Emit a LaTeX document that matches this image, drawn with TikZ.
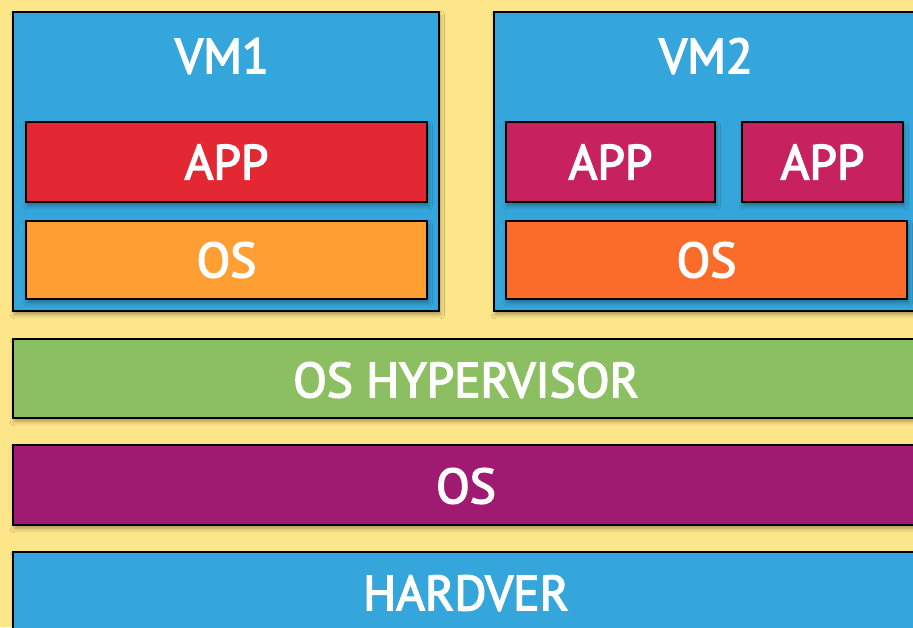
\documentclass[tikz,border=0pt]{standalone}
\usepackage{fontspec}
\setmainfont{PT Sans}
\newfontfamily\labelfont[FakeBold=3]{PT Sans}
\usetikzlibrary{shadows.blur}
\definecolor{bgyellow}{HTML}{FDE68A}
\definecolor{vmblue}{HTML}{35A6DB}
\definecolor{appred}{HTML}{E32833}
\definecolor{osorange}{HTML}{FF9F33}
\definecolor{appmagenta}{HTML}{C8215F}
\definecolor{osdarkorange}{HTML}{FB6B2A}
\definecolor{hypgreen}{HTML}{8CBF61}
\definecolor{ospurple}{HTML}{9E1B71}

\tikzset{
    layer/.style={rectangle, draw=black, line width=1.4pt, anchor=north west,
        inner sep=0pt, text=white, font=\labelfont\fontsize{35}{40}\selectfont,
        blur shadow={shadow xshift=1pt, shadow yshift=-2.5pt,
            shadow blur radius=3pt, shadow opacity=35}},
    title/.style={text=white, inner sep=0pt, font=\labelfont\fontsize{35}{40}\selectfont}
}

\begin{document}
\begin{tikzpicture}[x=0.025cm, y=-0.025cm]
        \clip (0, 0) rectangle (913, 627);
        \fill[bgyellow] (0, 0) rectangle (913, 627);

        % virtual machines
        \node[layer, fill=vmblue, minimum width=10.65cm, minimum height=7.475cm] (vm1) at (12, 11) {};
        \node[layer, fill=vmblue, minimum width=11cm, minimum height=7.475cm] (vm2) at (493, 11) {};
        \node[title] (vm1title) at (222, 56) {VM1};
        \node[title] (vm2title) at (706, 56) {VM2};

        \node[layer, fill=appred, minimum width=10.025cm, minimum height=2cm] (app1) at (25, 121) {APP};
        \node[layer, fill=osorange, minimum width=10.025cm, minimum height=1.95cm] (os1) at (25, 220) {OS};

        \node[layer, fill=appmagenta, minimum width=5.225cm, minimum height=2cm] (app2) at (505, 121) {APP};
        \node[layer, fill=appmagenta, minimum width=4.025cm, minimum height=2cm] (app3) at (741, 121) {APP};
        \node[layer, fill=osdarkorange, minimum width=10.025cm, minimum height=1.95cm] (os2) at (505, 220) {OS};

        % host layers
        \node[layer, fill=hypgreen, minimum width=23cm, minimum height=1.975cm] (hyper) at (12, 338) {};
        \node[layer, fill=ospurple, minimum width=23cm, minimum height=2cm] (hostos) at (12, 444) {};
        \node[layer, fill=vmblue, minimum width=23cm, minimum height=2cm] (hw) at (12, 551) {};

        \node[title] (hypertitle) at (466, 380) {OS HYPERVISOR};
        \node[title] (hostostitle) at (466, 486) {OS};
        \node[title] (hwtitle) at (466, 593) {HARDVER};
    \end{tikzpicture}
\end{document}
